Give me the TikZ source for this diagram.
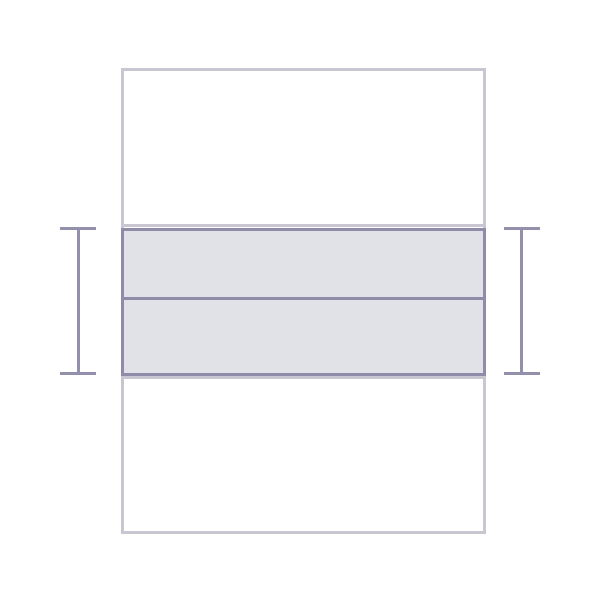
\documentclass[tikz,border=0pt]{standalone}
\definecolor{outerc}{HTML}{C9C6D2}
\definecolor{innerc}{HTML}{8F8BA8}
\definecolor{fillc}{HTML}{E1E2E8}
\definecolor{brc}{HTML}{9390AC}
\tikzset{
  outerbox/.style={draw=outerc, line width=3pt},
  band/.style={draw=innerc, fill=fillc, line width=3pt},
  bracket/.style={draw=brc, line width=3pt},
}
\begin{document}
\begin{tikzpicture}[x=1pt,y=-1pt]
\useasboundingbox (0,0) rectangle (600,600);
\fill[white] (0,0) rectangle (600,600);
\node[outerbox, minimum width=362pt, minimum height=463pt, inner sep=0pt, anchor=north west] (outer) at (121,68) {};
\node[outerbox, minimum width=362pt, minimum height=152pt, inner sep=0pt, anchor=north west] (halo) at (121,223.5) {};
\node[band, minimum width=362pt, minimum height=145pt, inner sep=0pt, anchor=north west] (band) at (121,227.5) {};
\coordinate (ml) at (121,298);
\coordinate (mr) at (483,298);
\draw[draw=innerc, line width=3pt] (ml) -- (mr);
% left bracket
\coordinate (lt) at (78,228);
\coordinate (lb) at (78,373);
\draw[bracket] (lt) -- (lb);
\draw[bracket] ([xshift=-18pt]lt) -- ([xshift=18pt]lt);
\draw[bracket] ([xshift=-18pt]lb) -- ([xshift=18pt]lb);
% right bracket
\coordinate (rt) at (521.5,228);
\coordinate (rb) at (521.5,373);
\draw[bracket] (rt) -- (rb);
\draw[bracket] ([xshift=-18pt]rt) -- ([xshift=18pt]rt);
\draw[bracket] ([xshift=-18pt]rb) -- ([xshift=18pt]rb);
\end{tikzpicture}
\end{document}
